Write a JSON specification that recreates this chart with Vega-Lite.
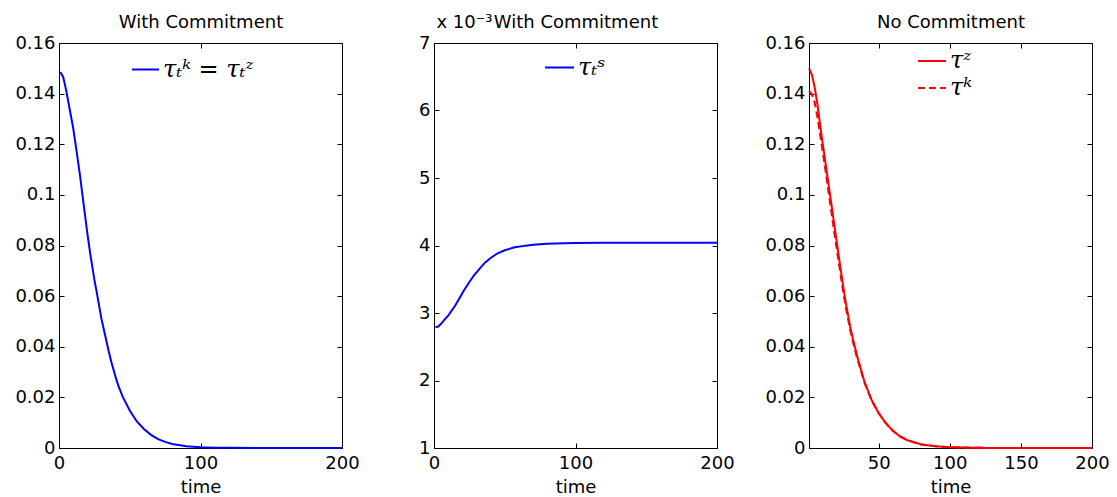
{
  "$schema": "https://vega.github.io/schema/vega-lite/v6.json",
  "background": "white",
  "padding": {"left": 14, "top": 12, "right": 5, "bottom": 0},
  "spacing": 92,
  "bounds": "flush",
  "config": {
    "font": "DejaVu Sans",
    "view": {"stroke": "black", "strokeWidth": 1},
    "axis": {
      "grid": false,
      "domainColor": "black",
      "domainWidth": 1,
      "tickColor": "black",
      "tickWidth": 1,
      "tickSize": -5,
      "labelFont": "DejaVu Sans",
      "labelFontSize": 18,
      "labelColor": "black",
      "labelFlush": false,
      "labelOverlap": false,
      "titleFont": "DejaVu Sans",
      "titleFontSize": 18,
      "titleFontWeight": "normal",
      "titleColor": "black"
    },
    "legend": {
      "labelFont": "DejaVu Serif",
      "labelFontStyle": "italic",
      "labelFontSize": 24,
      "labelColor": "black",
      "symbolStrokeWidth": 2,
      "symbolType": "stroke",
      "padding": 0,
      "rowPadding": 0,
      "labelOffset": 3,
      "direction": "vertical"
    }
  },
  "datasets": {
    "p1": [
      {"t": 1, "v": 0.1485}, {"t": 3, "v": 0.1465}, {"t": 5, "v": 0.1415}, {"t": 7, "v": 0.1355},
      {"t": 10, "v": 0.1265}, {"t": 12, "v": 0.119}, {"t": 15, "v": 0.107}, {"t": 17, "v": 0.098},
      {"t": 20, "v": 0.085}, {"t": 22, "v": 0.077}, {"t": 25, "v": 0.0665}, {"t": 27, "v": 0.0605},
      {"t": 30, "v": 0.051}, {"t": 32, "v": 0.046}, {"t": 35, "v": 0.0385}, {"t": 37, "v": 0.034},
      {"t": 40, "v": 0.028}, {"t": 42, "v": 0.0245}, {"t": 45, "v": 0.0203}, {"t": 50, "v": 0.0148},
      {"t": 55, "v": 0.0105}, {"t": 60, "v": 0.0075}, {"t": 65, "v": 0.0052}, {"t": 70, "v": 0.0035},
      {"t": 75, "v": 0.0024}, {"t": 80, "v": 0.0016}, {"t": 90, "v": 0.0007}, {"t": 100, "v": 0.0003},
      {"t": 110, "v": 0.00012}, {"t": 120, "v": 0.00005}, {"t": 140, "v": 0.00001}, {"t": 160, "v": 0},
      {"t": 180, "v": 0}, {"t": 200, "v": 0}
    ],
    "p2": [
      {"t": 1, "v": 0.00279}, {"t": 3, "v": 0.0028}, {"t": 5, "v": 0.00284}, {"t": 7, "v": 0.00289},
      {"t": 10, "v": 0.00296}, {"t": 12, "v": 0.00302}, {"t": 15, "v": 0.00311}, {"t": 18, "v": 0.00322},
      {"t": 21, "v": 0.00333}, {"t": 25, "v": 0.00346}, {"t": 28, "v": 0.00355}, {"t": 32, "v": 0.00365},
      {"t": 36, "v": 0.003745}, {"t": 40, "v": 0.003815}, {"t": 45, "v": 0.003885}, {"t": 50, "v": 0.00393},
      {"t": 57, "v": 0.003973}, {"t": 65, "v": 0.003998}, {"t": 70, "v": 0.00401}, {"t": 80, "v": 0.004025},
      {"t": 92, "v": 0.004033}, {"t": 100, "v": 0.004036}, {"t": 120, "v": 0.00404}, {"t": 150, "v": 0.00404},
      {"t": 200, "v": 0.00404}
    ],
    "p3": [
      {"t": 1, "v": 0.15, "s": "τᶻ"}, {"t": 3, "v": 0.1475, "s": "τᶻ"}, {"t": 5, "v": 0.1425, "s": "τᶻ"},
      {"t": 7, "v": 0.1355, "s": "τᶻ"}, {"t": 10, "v": 0.1228, "s": "τᶻ"}, {"t": 12, "v": 0.115, "s": "τᶻ"},
      {"t": 15, "v": 0.1031, "s": "τᶻ"}, {"t": 17, "v": 0.0953, "s": "τᶻ"}, {"t": 20, "v": 0.0834, "s": "τᶻ"},
      {"t": 22, "v": 0.0756, "s": "τᶻ"}, {"t": 25, "v": 0.064, "s": "τᶻ"}, {"t": 27, "v": 0.057, "s": "τᶻ"},
      {"t": 30, "v": 0.0478, "s": "τᶻ"}, {"t": 32, "v": 0.0428, "s": "τᶻ"}, {"t": 35, "v": 0.036, "s": "τᶻ"},
      {"t": 37, "v": 0.0321, "s": "τᶻ"}, {"t": 40, "v": 0.0262, "s": "τᶻ"}, {"t": 45, "v": 0.019, "s": "τᶻ"},
      {"t": 50, "v": 0.0138, "s": "τᶻ"}, {"t": 55, "v": 0.0098, "s": "τᶻ"}, {"t": 60, "v": 0.0068, "s": "τᶻ"},
      {"t": 65, "v": 0.0046, "s": "τᶻ"}, {"t": 70, "v": 0.0031, "s": "τᶻ"}, {"t": 80, "v": 0.0014, "s": "τᶻ"},
      {"t": 90, "v": 0.0007, "s": "τᶻ"}, {"t": 100, "v": 0.0003, "s": "τᶻ"}, {"t": 120, "v": 0.00006, "s": "τᶻ"},
      {"t": 140, "v": 0.00001, "s": "τᶻ"}, {"t": 160, "v": 0, "s": "τᶻ"}, {"t": 200, "v": 0, "s": "τᶻ"},
      {"t": 1, "v": 0.141, "s": "τᵏ"}, {"t": 3, "v": 0.1398, "s": "τᵏ"}, {"t": 5, "v": 0.1365, "s": "τᵏ"},
      {"t": 7, "v": 0.1305, "s": "τᵏ"}, {"t": 10, "v": 0.1195, "s": "τᵏ"}, {"t": 12, "v": 0.112, "s": "τᵏ"},
      {"t": 15, "v": 0.1, "s": "τᵏ"}, {"t": 17, "v": 0.0922, "s": "τᵏ"}, {"t": 20, "v": 0.0805, "s": "τᵏ"},
      {"t": 22, "v": 0.073, "s": "τᵏ"}, {"t": 25, "v": 0.0618, "s": "τᵏ"}, {"t": 27, "v": 0.0552, "s": "τᵏ"},
      {"t": 30, "v": 0.0465, "s": "τᵏ"}, {"t": 32, "v": 0.0417, "s": "τᵏ"}, {"t": 35, "v": 0.0352, "s": "τᵏ"},
      {"t": 37, "v": 0.0315, "s": "τᵏ"}, {"t": 40, "v": 0.0258, "s": "τᵏ"}, {"t": 45, "v": 0.0188, "s": "τᵏ"},
      {"t": 50, "v": 0.0137, "s": "τᵏ"}, {"t": 55, "v": 0.0098, "s": "τᵏ"}, {"t": 60, "v": 0.0068, "s": "τᵏ"},
      {"t": 65, "v": 0.0046, "s": "τᵏ"}, {"t": 70, "v": 0.0031, "s": "τᵏ"}, {"t": 80, "v": 0.0014, "s": "τᵏ"},
      {"t": 90, "v": 0.0007, "s": "τᵏ"}, {"t": 100, "v": 0.0003, "s": "τᵏ"}, {"t": 120, "v": 0.00006, "s": "τᵏ"},
      {"t": 140, "v": 0.00001, "s": "τᵏ"}, {"t": 160, "v": 0, "s": "τᵏ"}, {"t": 200, "v": 0, "s": "τᵏ"}
    ]
  },
  "hconcat": [
    {
      "width": 283,
      "height": 405,
      "data": {"name": "p1"},
      "layer": [
        {
          "mark": {"type": "line", "strokeWidth": 2},
          "encoding": {
            "x": {"field": "t", "type": "quantitative", "scale": {"domain": [0, 200], "nice": false, "zero": false},
              "axis": {"orient": "bottom", "values": [0, 100, 200], "labelPadding": 11, "title": "time", "titleX": 141.5, "titleY": 44, "titleBaseline": "alphabetic", "titleAlign": "center"}},
            "y": {"field": "v", "type": "quantitative", "scale": {"domain": [0, 0.16], "nice": false},
              "axis": {"orient": "left", "values": [0, 0.02, 0.04, 0.06, 0.08, 0.1, 0.12, 0.14, 0.16], "format": "~g", "labelPadding": 9, "title": null}},
            "color": {"datum": "τₜᵏ = τₜᶻ", "type": "nominal", "scale": {"range": ["#0000ff"]},
              "legend": {"orient": "none", "legendX": 72, "legendY": 12, "title": null, "symbolSize": 729, "symbolStrokeColor": "#0000ff"}}
          }
        },
        {
          "mark": {"type": "line", "strokeOpacity": 0},
          "encoding": {
            "x": {"field": "t", "type": "quantitative",
              "axis": {"orient": "top", "values": [0, 100, 200], "labels": false, "title": "With Commitment", "titleX": 141.5, "titleY": -16, "titleBaseline": "alphabetic", "titleAlign": "center"}},
            "y": {"field": "v", "type": "quantitative",
              "axis": {"orient": "right", "values": [0, 0.02, 0.04, 0.06, 0.08, 0.1, 0.12, 0.14, 0.16], "labels": false, "title": null}}
          }
        }
      ],
      "resolve": {"axis": {"x": "independent", "y": "independent"}}
    },
    {
      "width": 283,
      "height": 405,
      "data": {"name": "p2"},
      "layer": [
        {
          "mark": {"type": "line", "strokeWidth": 2},
          "encoding": {
            "x": {"field": "t", "type": "quantitative", "scale": {"domain": [0, 200], "nice": false, "zero": false},
              "axis": {"orient": "bottom", "values": [0, 100, 200], "labelPadding": 11, "title": "time", "titleX": 141.5, "titleY": 44, "titleBaseline": "alphabetic", "titleAlign": "center"}},
            "y": {"field": "v", "type": "quantitative", "scale": {"domain": [0.001, 0.007], "nice": false, "zero": false},
              "axis": {"orient": "left", "values": [0.001, 0.002, 0.003, 0.004, 0.005, 0.006, 0.007], "labelExpr": "round(datum.value*1000)", "labelPadding": 9,
                "title": "x 10⁻³", "titleAngle": 0, "titleX": 2, "titleY": -16, "titleAlign": "left", "titleBaseline": "alphabetic"}},
            "color": {"datum": "τₜˢ", "type": "nominal", "scale": {"range": ["#0000ff"]},
              "legend": {"orient": "none", "legendX": 110, "legendY": 9, "title": null, "symbolSize": 841, "symbolStrokeColor": "#0000ff"}}
          }
        },
        {
          "mark": {"type": "line", "strokeOpacity": 0},
          "encoding": {
            "x": {"field": "t", "type": "quantitative",
              "axis": {"orient": "top", "values": [0, 100, 200], "labels": false, "title": "With Commitment", "titleX": 141.5, "titleY": -16, "titleBaseline": "alphabetic", "titleAlign": "center"}},
            "y": {"field": "v", "type": "quantitative",
              "axis": {"orient": "right", "values": [0.001, 0.002, 0.003, 0.004, 0.005, 0.006, 0.007], "labels": false, "title": null}}
          }
        }
      ],
      "resolve": {"axis": {"x": "independent", "y": "independent"}}
    },
    {
      "width": 283,
      "height": 405,
      "data": {"name": "p3"},
      "layer": [
        {
          "mark": {"type": "line", "strokeWidth": 2},
          "encoding": {
            "x": {"field": "t", "type": "quantitative", "scale": {"domain": [1, 200], "nice": false, "zero": false},
              "axis": {"orient": "bottom", "values": [50, 100, 150, 200], "labelPadding": 11, "title": "time", "titleX": 141.5, "titleY": 44, "titleBaseline": "alphabetic", "titleAlign": "center"}},
            "y": {"field": "v", "type": "quantitative", "scale": {"domain": [0, 0.16], "nice": false},
              "axis": {"orient": "left", "values": [0, 0.02, 0.04, 0.06, 0.08, 0.1, 0.12, 0.14, 0.16], "format": "~g", "labelPadding": 9, "title": null}},
            "color": {"field": "s", "type": "nominal", "scale": {"domain": ["τᶻ", "τᵏ"], "range": ["#ff0000", "#ff0000"]},
              "legend": {"orient": "none", "legendX": 108, "legendY": 3, "title": null, "symbolSize": 784, "symbolStrokeColor": "#ff0000"}},
            "strokeDash": {"field": "s", "type": "nominal", "scale": {"domain": ["τᶻ", "τᵏ"], "range": [[1, 0], [7, 4]]},
              "legend": {"orient": "none", "legendX": 108, "legendY": 3, "title": null, "symbolSize": 784, "symbolStrokeColor": "#ff0000"}}
          }
        },
        {
          "mark": {"type": "line", "strokeOpacity": 0},
          "encoding": {
            "x": {"field": "t", "type": "quantitative",
              "axis": {"orient": "top", "values": [50, 100, 150, 200], "labels": false, "title": "No Commitment", "titleX": 141.5, "titleY": -16, "titleBaseline": "alphabetic", "titleAlign": "center"}},
            "y": {"field": "v", "type": "quantitative",
              "axis": {"orient": "right", "values": [0, 0.02, 0.04, 0.06, 0.08, 0.1, 0.12, 0.14, 0.16], "labels": false, "title": null}},
            "detail": {"field": "s"}
          }
        }
      ],
      "resolve": {"axis": {"x": "independent", "y": "independent"}}
    }
  ],
  "resolve": {
    "scale": {"color": "independent", "strokeDash": "independent"},
    "legend": {"color": "independent", "strokeDash": "independent"}
  }
}
